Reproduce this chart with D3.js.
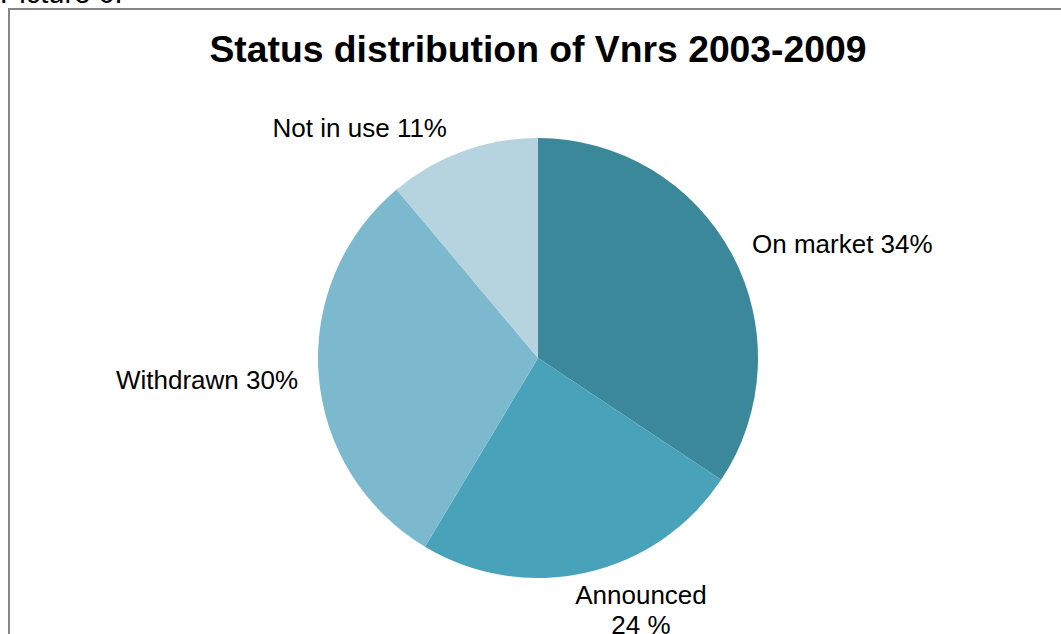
<!DOCTYPE html>
<html><head><meta charset="utf-8">
<script src="https://cdn.jsdelivr.net/npm/d3@7"></script>
<style>body{margin:0;background:#fff;overflow:hidden}svg{display:block}</style>
</head><body>
<script>
const categories = ["On market", "Announced", "Withdrawn", "Not in use"];
const values = [34, 24, 30, 11];
const labelLines = [["On market 34%"], ["Announced", "24 %"], ["Withdrawn 30%"], ["Not in use 11%"]];
const colors = ["#3A889A", "#48A2B9", "#7DB9CE", "#B6D4DF"];

const W = 1061, H = 634;
const svg = d3.select("body").append("svg").attr("width", W).attr("height", H);
const font = "Liberation Sans, Arial, sans-serif";

svg.append("text").attr("x", 0).attr("y", 3).attr("font-family", font).attr("font-size", 29)
  .attr("fill", "#000").text("Picture 6.");
svg.append("rect").attr("x", 9).attr("y", 9).attr("width", W + 10).attr("height", H + 10)
  .attr("fill", "none").attr("stroke", "#868686").attr("stroke-width", 2);

svg.append("text").attr("x", 538).attr("y", 62).attr("text-anchor", "middle")
  .attr("font-family", font).attr("font-weight", "bold").attr("font-size", 37.3).text("Status distribution of Vnrs 2003-2009");

const cx = 538, cy = 358, r = 220;
const pie = d3.pie().sort(null).value(d => d);
const arcs = pie(values);
const arc = d3.arc().innerRadius(0).outerRadius(r);
const g = svg.append("g").attr("transform", `translate(${cx},${cy})`);
g.selectAll("path").data(arcs).enter().append("path")
  .attr("d", arc).attr("fill", (d, i) => colors[i]);

// label placement (layout, relative to pie centre)
const labelPos = [[214, -105, "start"], [103, 246, "middle"], [-240, 31, "end"], [-91, -221, "end"]];
arcs.forEach((d, i) => {
  const [x, y, anchor] = labelPos[i];
  const t = g.append("text").attr("font-family", font).attr("font-size", 26)
    .attr("text-anchor", anchor).attr("fill", "#000");
  labelLines[i].forEach((l, j) => {
    t.append("tspan").attr("x", x).attr("y", y + j * 30).text(l);
  });
});
</script>
</body></html>
